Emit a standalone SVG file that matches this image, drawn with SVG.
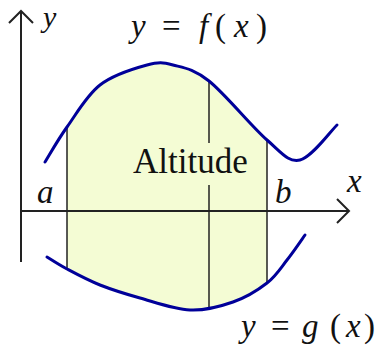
<svg xmlns="http://www.w3.org/2000/svg" width="377" height="349" viewBox="0 0 377 349">
<defs>
<style>
.axis{stroke:#222;stroke-width:2;fill:none}
.arrow{stroke:#222;stroke-width:2;fill:none;stroke-linejoin:miter}
.vline{stroke:#222;stroke-width:1.5;fill:none}
.curve{stroke:#000099;stroke-width:3;fill:none;stroke-linecap:round;stroke-linejoin:round}
.fill{fill:#f4fcd4;stroke:none}
.m{font-family:"Liberation Serif","Times New Roman",serif;font-size:33px;fill:#111}
.i{font-style:italic}
.lbl{font-family:"Liberation Serif","Times New Roman",serif;font-size:35px;fill:#111}
</style>
</defs>
<rect width="377" height="349" fill="#ffffff"/>
<g id="region">
<path class="fill" d="M67,127 C76.2,114.2 86.7,95.3 100,85 C113.3,74.7 134.8,68.3 147,65 C159.2,61.7 162.7,62.3 173,65 C183.3,67.7 193.3,68.5 209,81 C224.7,93.5 251.8,126.8 267,140 L267,283 C258,290 245.8,297.5 233,302 C220.2,306.5 205.5,310.7 190,310 C174.5,309.3 155,302.2 140,298 C125,293.8 112.2,289.8 100,285 C87.8,280.2 75.8,273.7 67,269 Z"/>
</g>
<g id="connectors">
<line class="axis" x1="21" y1="262" x2="21" y2="11"/>
<polyline class="arrow" points="9,23 21,11 33,23"/>
<line class="axis" x1="20" y1="211" x2="349" y2="211"/>
<polyline class="arrow" points="337,199 349,211 337,223"/>
<line class="vline" x1="67" y1="127" x2="67" y2="269"/>
<line class="vline" x1="267" y1="140" x2="267" y2="283"/>
<line class="vline" x1="209" y1="81" x2="209" y2="143"/>
<line class="vline" x1="209" y1="185" x2="209" y2="308"/>
</g>
<g id="curve-f">
<path class="curve" d="M45,162 C48.7,156.2 57.8,139.8 67,127 C76.2,114.2 86.7,95.3 100,85 C113.3,74.7 134.8,68.3 147,65 C159.2,61.7 162.7,62.3 173,65 C183.3,67.7 193.3,68.5 209,81 C224.7,93.5 251.8,126.8 267,140 C282.2,153.2 288.3,162.5 300,160 C311.7,157.5 330.8,130.8 337,125"/>
</g>
<g id="curve-g">
<path class="curve" d="M47,257 C50.3,259 58.2,264.3 67,269 C75.8,273.7 87.8,280.2 100,285 C112.2,289.8 125,293.8 140,298 C155,302.2 174.5,309.3 190,310 C205.5,310.7 220.2,306.5 233,302 C245.8,297.5 258,290 267,283 C276,276 280.7,268 287,260 C293.3,252 302,239.2 305,235"/>
</g>
<g id="labels">
<text class="m i" x="43" y="27" style="font-size:30px">y</text>
<text class="m" y="37"><tspan class="i" x="131">y</tspan> <tspan x="162">=</tspan> <tspan class="i" x="199">f</tspan><tspan x="215">(</tspan><tspan class="i" x="234">x</tspan><tspan x="256">)</tspan></text>
<text class="lbl" x="133" y="173">Altitude</text>
<text class="m i" x="37" y="203">a</text>
<text class="m i" x="275" y="203">b</text>
<text class="m i" x="347" y="192">x</text>
<text class="m" y="337"><tspan class="i" x="241">y</tspan> <tspan x="271">=</tspan> <tspan class="i" x="302">g</tspan><tspan x="330">(</tspan><tspan class="i" x="346">x</tspan><tspan x="364">)</tspan></text>
</g>
</svg>
